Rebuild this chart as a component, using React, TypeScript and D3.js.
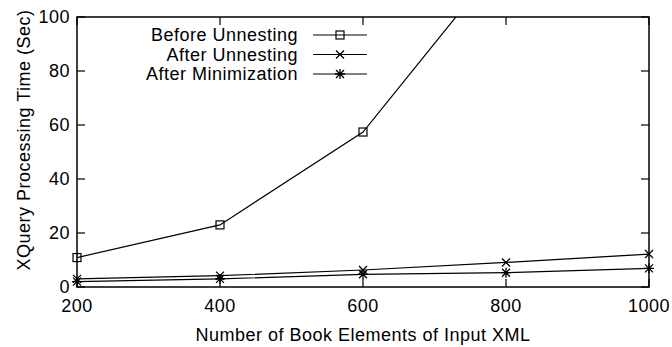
import React from 'react';
import * as d3 from 'd3';

const xTicks = [200, 400, 600, 800, 1000];
const yTicks = [0, 20, 40, 60, 80, 100];
const seriesNames = ['Before Unnesting', 'After Unnesting', 'After Minimization'];
const beforeUnnesting = [10.9, 23.0, 57.4, 123, null];
const afterUnnesting = [3.0, 4.2, 6.3, 9.1, 12.2];
const afterMinimization = [2.0, 3.0, 4.7, 5.3, 6.9];

const W = 672,
  H = 347;
const m = { left: 77, right: 649, top: 17, bottom: 287 };
const font = { fontFamily: '"Liberation Sans", Arial, Helvetica, sans-serif', fontSize: 18, letterSpacing: 0.5 };

function Marker({ kind, x, y }: { kind: number; x: number; y: number }) {
  const s = 4;
  if (kind === 0) {
    return <rect x={x - s} y={y - s} width={2 * s} height={2 * s} fill="none" stroke="#000" strokeWidth={1.2} />;
  }
  const cross = `M${x - s},${y - s}L${x + s},${y + s}M${x - s},${y + s}L${x + s},${y - s}`;
  const plus = `M${x},${y - s - 1}L${x},${y + s + 1}M${x - s - 1},${y}L${x + s + 1},${y}`;
  return <path d={kind === 1 ? cross : cross + plus} fill="none" stroke="#000" strokeWidth={1.3} />;
}

export default function App() {
  const x = d3.scaleLinear().domain([200, 1000]).range([m.left, m.right]);
  const y = d3.scaleLinear().domain([0, 100]).range([m.bottom, m.top]);
  const all = [beforeUnnesting, afterUnnesting, afterMinimization];

  const line = d3
    .line<number | null>()
    .defined(d => d != null)
    .x((d, i) => x(xTicks[i]))
    .y(d => y(d as number));

  const tick = 8;

  return (
    <svg width={W} height={H} style={{ position: 'absolute', left: 0, top: 0, background: '#fff' }}>
      <defs>
        {/* clip only above the top of the plot; markers may spill left/right */}
        <clipPath id="plot">
          <rect x={0} y={m.top} width={W} height={H - m.top} />
        </clipPath>
      </defs>

      {/* ticks, mirrored on all sides */}
      <g stroke="#000" strokeWidth={1.2}>
        {xTicks.map(t => (
          <g key={'x' + t}>
            <line x1={x(t)} x2={x(t)} y1={m.bottom} y2={m.bottom - tick} />
            <line x1={x(t)} x2={x(t)} y1={m.top} y2={m.top + tick} />
          </g>
        ))}
        {yTicks.map(t => (
          <g key={'y' + t}>
            <line x1={m.left} x2={m.left + tick} y1={y(t)} y2={y(t)} />
            <line x1={m.right} x2={m.right - tick} y1={y(t)} y2={y(t)} />
          </g>
        ))}
      </g>

      <g style={font} fill="#000">
        {xTicks.map(t => (
          <text key={t} x={x(t)} y={312} textAnchor="middle">
            {t}
          </text>
        ))}
        {yTicks.map(t => (
          <text key={t} x={70} y={y(t) + 6} textAnchor="end">
            {t}
          </text>
        ))}
        <text x={(m.left + m.right) / 2} y={341} textAnchor="middle">
          Number of Book Elements of Input XML
        </text>
        <text transform={`translate(30,140) rotate(-90)`} textAnchor="middle">
          XQuery Processing Time (Sec)
        </text>
      </g>

      <g clipPath="url(#plot)">
        {all.map((vals, k) => (
          <g key={k}>
            <path d={line(vals) || ''} fill="none" stroke="#000" strokeWidth={1.2} />
            {vals.map((v, i) =>
              v == null ? null : <Marker key={i} kind={k} x={x(xTicks[i])} y={y(v)} />
            )}
          </g>
        ))}
      </g>

      {/* legend */}
      <g>
        {seriesNames.map((name, k) => {
          const ly = 35 + k * 19.5;
          return (
            <g key={name}>
              <text x={298} y={ly + 6} textAnchor="end" style={font}>
                {name}
              </text>
              <line x1={313} x2={367} y1={ly} y2={ly} stroke="#000" strokeWidth={1.2} />
              <Marker kind={k} x={340} y={ly} />
            </g>
          );
        })}
      </g>

      <rect
        x={m.left}
        y={m.top}
        width={m.right - m.left}
        height={m.bottom - m.top}
        fill="none"
        stroke="#000"
        strokeWidth={1.5}
      />
    </svg>
  );
}
